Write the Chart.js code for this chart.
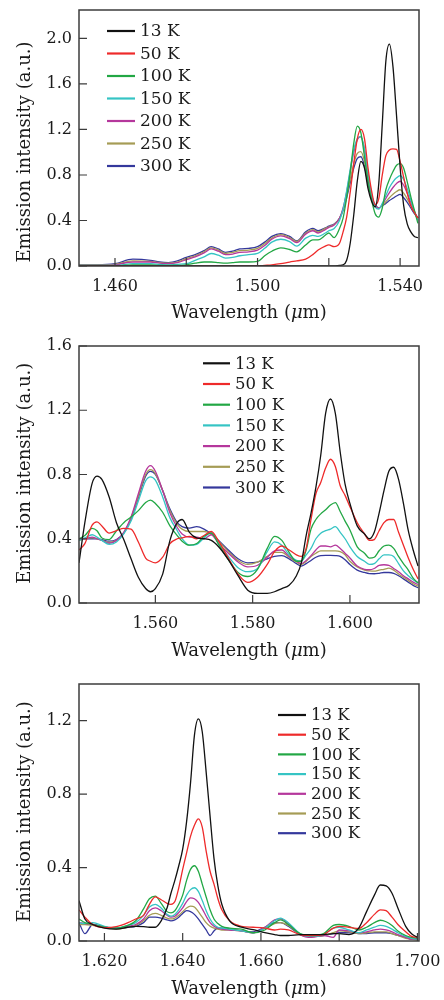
<!DOCTYPE html>
<html>
<head>
<meta charset="utf-8">
<script src="https://cdn.jsdelivr.net/npm/chart.js@4.4.0/dist/chart.umd.min.js"></script>
<style>
  html, body { margin: 0; padding: 0; background: #fff; }
  #wrap { position: relative; width: 444px; height: 1000px; }
  canvas { position: absolute; left: 0; }
</style>
</head>
<body>
<div id="wrap">
  <canvas id="c1" width="444" height="330" style="top:0px"></canvas>
  <canvas id="c2" width="444" height="340" style="top:330px"></canvas>
  <canvas id="c3" width="444" height="330" style="top:670px"></canvas>
</div>
<script>
// temperatures, shared by the three panels
const temps = ['13 K', '50 K', '100 K', '150 K', '200 K', '250 K', '300 K'];
const colors = ['#111111', '#ee2a2a', '#22a744', '#35c4c4', '#b5379c', '#a59c55', '#34389c'];

// panel 1 : 1.45 - 1.545 um
const p1Wave = [1.450,1.455,1.460,1.465,1.470,1.4725,1.475,1.4775,1.480,1.4825,
  1.485,1.487,1.489,1.491,1.493,1.495,1.4975,1.500,1.502,1.504,
  1.5065,1.509,1.511,1.5135,1.5155,1.517,1.519,1.520,1.5215,1.523,
  1.524,1.525,1.526,1.527,1.528,1.529,1.530,1.531,1.532,1.533,
  1.534,1.535,1.536,1.537,1.538,1.539,1.540,1.541,1.542,1.543,
  1.544,1.545];
const p1K13 = [0,0,0,0,0,0,0,0,0,0, 0,0,0,0,0,0,0,0,0,0, 0,0,0,0,0,0,0,0,0,0.005,
  0.01,0.05,0.20,0.45,0.75,0.92,0.86,0.68,0.57,0.52, 0.72,1.25,1.80,1.95,1.75,1.32,0.87,0.53,0.37,0.30, 0.26,0.25];
const p1K50 = [0,0,0,0,0,0,0,0,0,0, 0,0,0,0,0,0,0,0,0.005,0.01, 0.02,0.035,0.045,0.06,0.10,0.14,0.175,0.185,0.17,0.20,
  0.30,0.43,0.65,0.90,1.12,1.20,1.12,0.86,0.66,0.54, 0.59,0.80,0.97,1.02,1.03,1.025,0.92,0.78,0.64,0.53, 0.47,0.42];
const p1K100 = [0,0,0,0.01,0.01,0.005,0.005,0.005,0.01,0.025, 0.035,0.035,0.03,0.025,0.03,0.035,0.035,0.04,0.09,0.13,
  0.16,0.145,0.125,0.185,0.23,0.23,0.27,0.29,0.25,0.33, 0.42,0.60,0.82,1.08,1.23,1.17,0.96,0.74,0.58,0.46,
  0.43,0.51,0.67,0.76,0.83,0.885,0.90,0.86,0.74,0.61, 0.49,0.375];
const p1K150 = [0.005,0.005,0.005,0.02,0.02,0.015,0.01,0.015,0.02,0.05, 0.08,0.11,0.095,0.07,0.075,0.09,0.10,0.11,0.155,0.21,
  0.235,0.215,0.175,0.245,0.27,0.26,0.29,0.31,0.33,0.40, 0.50,0.66,0.85,1.02,1.12,1.14,1.03,0.81,0.63,0.52,
  0.50,0.55,0.62,0.69,0.74,0.775,0.795,0.76,0.68,0.58, 0.48,0.40];
const p1K200 = [0.005,0.005,0.01,0.035,0.035,0.025,0.02,0.03,0.055,0.08, 0.115,0.15,0.13,0.10,0.105,0.12,0.125,0.14,0.18,0.235,
  0.265,0.24,0.205,0.28,0.31,0.29,0.32,0.34,0.36,0.42, 0.51,0.65,0.83,1.00,1.11,1.135,1.02,0.80,0.63,0.53,
  0.51,0.54,0.595,0.645,0.69,0.725,0.745,0.71,0.64,0.56, 0.48,0.42];
const p1K250 = [0.01,0.01,0.015,0.045,0.04,0.03,0.025,0.035,0.065,0.09, 0.125,0.16,0.14,0.11,0.12,0.135,0.14,0.155,0.195,0.245,
  0.275,0.25,0.215,0.29,0.32,0.30,0.33,0.345,0.365,0.42, 0.50,0.62,0.76,0.90,0.99,1.005,0.92,0.75,0.61,0.53,
  0.51,0.53,0.565,0.60,0.63,0.655,0.67,0.64,0.59,0.53, 0.47,0.42];
const p1K300 = [0.01,0.01,0.02,0.06,0.05,0.035,0.03,0.045,0.075,0.10, 0.135,0.17,0.15,0.12,0.13,0.15,0.155,0.17,0.21,0.26,
  0.285,0.26,0.22,0.30,0.33,0.31,0.335,0.35,0.37,0.42, 0.49,0.60,0.73,0.86,0.945,0.96,0.88,0.72,0.60,0.54,
  0.51,0.53,0.55,0.575,0.595,0.615,0.63,0.60,0.56,0.51, 0.46,0.42];

// panel 2 : 1.544 - 1.614 um
const p2Wave = [1.5443,1.5455,1.547,1.548,1.549,1.5505,1.552,1.5535,1.555,1.5565,
  1.558,1.559,1.560,1.5615,1.563,1.5645,1.5655,1.567,1.5685,1.570,
  1.5715,1.573,1.575,1.577,1.579,1.581,1.583,1.5845,1.586,1.5875,
  1.589,1.590,1.591,1.592,1.593,1.594,1.595,1.596,1.597,1.598,
  1.599,1.600,1.6015,1.603,1.604,1.605,1.606,1.607,1.608,1.609,
  1.610,1.611,1.612,1.613,1.614];
const p2K13 = [0.25,0.50,0.745,0.79,0.77,0.66,0.50,0.395,0.275,0.16, 0.09,0.07,0.09,0.18,0.39,0.50,0.52,0.44,0.405,0.40,
  0.39,0.35,0.27,0.17,0.08,0.06,0.06,0.07,0.09,0.11, 0.17,0.25,0.42,0.56,0.72,0.92,1.18,1.27,1.18,0.94,
  0.74,0.62,0.48,0.43,0.40,0.44,0.56,0.70,0.82,0.845, 0.77,0.62,0.45,0.33,0.23];
const p2K50 = [0.33,0.37,0.485,0.505,0.48,0.435,0.45,0.465,0.46,0.38, 0.28,0.26,0.25,0.285,0.37,0.40,0.405,0.415,0.40,0.42,
  0.445,0.385,0.28,0.18,0.128,0.16,0.24,0.32,0.355,0.33, 0.30,0.29,0.34,0.52,0.68,0.75,0.84,0.895,0.85,0.73,
  0.67,0.60,0.50,0.43,0.39,0.395,0.45,0.50,0.52,0.52, 0.44,0.36,0.28,0.21,0.15];
const p2K100 = [0.40,0.42,0.465,0.45,0.405,0.395,0.45,0.50,0.535,0.575, 0.625,0.64,0.62,0.565,0.48,0.42,0.385,0.36,0.37,0.415,
  0.435,0.365,0.27,0.19,0.165,0.21,0.34,0.415,0.39,0.315, 0.26,0.26,0.33,0.46,0.52,0.555,0.58,0.61,0.625,0.57,
  0.51,0.455,0.35,0.31,0.28,0.285,0.325,0.355,0.36,0.34, 0.29,0.245,0.205,0.155,0.125];
const p2K150 = [0.39,0.405,0.425,0.41,0.39,0.365,0.38,0.43,0.51,0.635, 0.76,0.785,0.765,0.66,0.53,0.45,0.40,0.36,0.365,0.405,
  0.44,0.37,0.29,0.22,0.195,0.215,0.32,0.38,0.36,0.30, 0.265,0.26,0.30,0.34,0.40,0.435,0.45,0.46,0.475,0.44,
  0.40,0.35,0.29,0.26,0.24,0.245,0.275,0.30,0.30,0.29, 0.245,0.20,0.17,0.145,0.125];
const p2K200 = [0.40,0.40,0.41,0.40,0.39,0.372,0.39,0.44,0.535,0.68, 0.82,0.855,0.82,0.70,0.56,0.47,0.43,0.41,0.41,0.40,
  0.425,0.37,0.31,0.255,0.225,0.235,0.285,0.325,0.33,0.29, 0.26,0.245,0.265,0.295,0.33,0.355,0.355,0.35,0.36,0.34,
  0.31,0.28,0.23,0.21,0.207,0.215,0.235,0.238,0.235,0.215, 0.195,0.17,0.15,0.13,0.115];
const p2K250 = [0.39,0.40,0.405,0.40,0.39,0.378,0.39,0.435,0.53,0.665, 0.80,0.83,0.805,0.70,0.575,0.49,0.46,0.445,0.445,0.445,
  0.43,0.385,0.32,0.265,0.24,0.255,0.29,0.315,0.315,0.285, 0.255,0.24,0.26,0.29,0.31,0.325,0.325,0.325,0.325,0.32,
  0.30,0.26,0.225,0.205,0.20,0.198,0.205,0.21,0.217,0.205, 0.18,0.16,0.14,0.12,0.105];
const p2K300 = [0.40,0.40,0.40,0.40,0.395,0.385,0.395,0.435,0.525,0.655, 0.79,0.82,0.80,0.70,0.585,0.50,0.475,0.466,0.475,0.46,
  0.43,0.39,0.33,0.275,0.25,0.255,0.275,0.29,0.295,0.275, 0.245,0.23,0.245,0.265,0.285,0.295,0.296,0.296,0.295,0.29,
  0.27,0.24,0.205,0.19,0.183,0.182,0.185,0.19,0.19,0.185, 0.17,0.15,0.13,0.11,0.095];

// panel 3 : 1.6135 - 1.700 um
const p3Wave = [1.6135,1.615,1.617,1.620,1.623,1.626,1.628,1.630,1.6315,1.633,
  1.6345,1.636,1.637,1.638,1.639,1.640,1.641,1.642,1.643,1.644,
  1.645,1.646,1.647,1.648,1.649,1.650,1.652,1.655,1.658,1.661,
  1.6635,1.665,1.667,1.670,1.673,1.676,1.6785,1.680,1.6825,1.685,
  1.687,1.689,1.6905,1.692,1.6935,1.695,1.697,1.6985,1.700];
const p3K13 = [0.22,0.12,0.09,0.07,0.065,0.075,0.08,0.078,0.075,0.075, 0.11,0.18,0.26,0.33,0.41,0.50,0.65,0.86,1.12,1.21,
  1.14,0.92,0.68,0.45,0.30,0.20,0.11,0.075,0.062,0.045, 0.035,0.03,0.03,0.035,0.035,0.035,0.04,0.04,0.035,0.07,
  0.16,0.25,0.305,0.30,0.26,0.18,0.08,0.04,0.02];
const p3K50 = [0.17,0.13,0.09,0.073,0.078,0.10,0.12,0.14,0.20,0.24, 0.225,0.205,0.20,0.215,0.29,0.39,0.48,0.57,0.63,0.665,
  0.62,0.49,0.38,0.31,0.23,0.17,0.11,0.08,0.075,0.07, 0.06,0.065,0.06,0.035,0.03,0.035,0.07,0.08,0.075,0.068,
  0.10,0.145,0.17,0.165,0.13,0.09,0.05,0.025,0.02];
const p3K100 = [0.12,0.10,0.09,0.075,0.07,0.085,0.11,0.175,0.23,0.245, 0.205,0.16,0.153,0.165,0.20,0.25,0.33,0.39,0.41,0.38,
  0.31,0.24,0.17,0.12,0.095,0.08,0.07,0.065,0.045,0.06, 0.10,0.115,0.09,0.04,0.03,0.04,0.085,0.09,0.08,0.06,
  0.075,0.10,0.113,0.105,0.085,0.055,0.03,0.02,0.015];
const p3K150 = [0.10,0.095,0.10,0.08,0.07,0.085,0.10,0.14,0.185,0.20, 0.18,0.145,0.135,0.145,0.17,0.205,0.25,0.28,0.29,0.27,
  0.22,0.165,0.12,0.09,0.075,0.07,0.065,0.055,0.045,0.07, 0.11,0.125,0.10,0.04,0.025,0.035,0.07,0.075,0.06,0.045,
  0.06,0.075,0.085,0.08,0.065,0.045,0.025,0.015,0.01];
const p3K200 = [0.10,0.095,0.09,0.075,0.07,0.08,0.09,0.12,0.165,0.18, 0.165,0.14,0.13,0.135,0.155,0.18,0.215,0.235,0.23,0.21,
  0.175,0.135,0.10,0.08,0.07,0.065,0.06,0.055,0.045,0.075, 0.115,0.12,0.095,0.035,0.02,0.03,0.02,0.06,0.055,0.045,
  0.05,0.06,0.065,0.06,0.05,0.035,0.02,0.01,0.01];
const p3K250 = [0.09,0.09,0.085,0.075,0.065,0.075,0.085,0.11,0.14,0.15, 0.14,0.125,0.12,0.125,0.14,0.16,0.18,0.19,0.185,0.16,
  0.13,0.10,0.08,0.07,0.065,0.06,0.06,0.055,0.045,0.07, 0.095,0.10,0.085,0.035,0.025,0.03,0.045,0.055,0.05,0.04,
  0.045,0.05,0.05,0.05,0.04,0.03,0.015,0.01,0.005];
const p3K300 = [0.10,0.04,0.09,0.075,0.07,0.075,0.08,0.10,0.13,0.13, 0.125,0.115,0.11,0.115,0.13,0.15,0.165,0.16,0.145,0.12,
  0.09,0.06,0.03,0.055,0.07,0.07,0.065,0.055,0.05,0.075, 0.10,0.10,0.08,0.035,0.025,0.03,0.04,0.045,0.045,0.04,
  0.04,0.045,0.045,0.045,0.04,0.03,0.02,0.01,0.01];

const FONT = 'DejaVu Serif';

// box round the plot + inward tick marks
const framePlugin = {
  id: 'frame',
  afterDatasetsDraw(chart) {
    const { ctx, chartArea: a, scales } = chart;
    ctx.save();
    ctx.strokeStyle = '#3c3c3c';
    ctx.lineWidth = 1.5;
    ctx.strokeRect(a.left, a.top, a.right - a.left, a.bottom - a.top);
    ctx.lineWidth = 1.2;
    ctx.beginPath();
    scales.x.ticks.forEach(t => {
      const px = scales.x.getPixelForValue(t.value);
      ctx.moveTo(px, a.bottom); ctx.lineTo(px, a.bottom - 8);
    });
    scales.y.ticks.forEach(t => {
      const py = scales.y.getPixelForValue(t.value);
      ctx.moveTo(a.left, py); ctx.lineTo(a.left + 8, py);
    });
    ctx.stroke();
    ctx.restore();
  }
};

// legend drawn inside the plot
const innerLegend = {
  id: 'innerLegend',
  afterDraw(chart, args, o) {
    const ctx = chart.ctx;
    ctx.save();
    ctx.font = o.size + 'px "' + FONT + '"';
    ctx.textBaseline = 'middle';
    ctx.textAlign = 'left';
    chart.data.datasets.forEach((ds, i) => {
      const y = o.y0 + i * o.dy;
      ctx.strokeStyle = ds.borderColor;
      ctx.lineWidth = 2.2;
      ctx.beginPath();
      ctx.moveTo(o.x1, y); ctx.lineTo(o.x2, y);
      ctx.stroke();
      ctx.fillStyle = '#1a1a1a';
      ctx.fillText(ds.label, o.tx, y + 1);
    });
    ctx.restore();
  }
};

// axis titles (italic mu in the x title)
const axisTitles = {
  id: 'axisTitles',
  afterDraw(chart, args, o) {
    const ctx = chart.ctx, a = chart.chartArea;
    ctx.save();
    ctx.fillStyle = '#1a1a1a';
    ctx.textBaseline = 'middle';
    ctx.textAlign = 'left';
    const parts = [['Wavelength (', ''], ['\u03bc', 'italic '], ['m)', '']];
    let w = 0;
    parts.forEach(p => { ctx.font = p[1] + '18px "' + FONT + '"'; w += ctx.measureText(p[0]).width; });
    let x = (a.left + a.right) / 2 - w / 2;
    parts.forEach(p => {
      ctx.font = p[1] + '18px "' + FONT + '"';
      ctx.fillText(p[0], x, o.xTitleY);
      x += ctx.measureText(p[0]).width;
    });
    ctx.translate(o.yTitleX, o.yTitleY);
    ctx.rotate(-Math.PI / 2);
    ctx.textAlign = 'center';
    ctx.font = '18px "' + FONT + '"';
    ctx.fillText('Emission intensity (a.u.)', 0, 0);
    ctx.restore();
  }
};

function makeChart(id, wave, series, cfg) {
  const datasets = series.map((vals, i) => ({
    label: temps[i],
    data: wave.map((x, j) => ({ x: x, y: vals[j] })),
    borderColor: colors[i],
    borderWidth: 1.3,
    pointRadius: 0,
    fill: false,
    cubicInterpolationMode: 'monotone'
  }));
  return new Chart(document.getElementById(id), {
    type: 'line',
    data: { datasets: datasets },
    plugins: [framePlugin, innerLegend, axisTitles],
    options: {
      responsive: false,
      animation: false,
      devicePixelRatio: 1,
      layout: { padding: { left: 0, right: 25, top: cfg.padTop, bottom: 0 } },
      plugins: {
        legend: { display: false },
        tooltip: { enabled: false },
        innerLegend: cfg.legend,
        axisTitles: cfg.titles
      },
      scales: {
        x: {
          type: 'linear',
          min: cfg.xMin, max: cfg.xMax,
          grid: { display: false, drawTicks: false },
          border: { display: false },
          afterFit: s => { s.height = cfg.xHeight; s.paddingLeft = 0; s.paddingRight = 0; },
          ticks: {
            stepSize: 0.02,
            includeBounds: false,
            padding: 11,
            maxRotation: 0,
            autoSkip: false,
            color: '#1a1a1a',
            font: { family: FONT, size: 16 },
            callback: cfg.xLabel
          }
        },
        y: {
          min: 0, max: cfg.yMax,
          grid: { display: false, drawTicks: false },
          border: { display: false },
          afterFit: s => { s.width = 79; s.paddingTop = 0; s.paddingBottom = 0; },
          ticks: {
            stepSize: 0.4,
            includeBounds: false,
            padding: 7,
            color: '#1a1a1a',
            font: { family: FONT, size: 16 },
            callback: v => v.toFixed(1)
          }
        }
      }
    }
  });
}

makeChart('c1', p1Wave, [p1K13, p1K50, p1K100, p1K150, p1K200, p1K250, p1K300], {
  xMin: 1.4499, xMax: 1.5453, yMax: 2.25, padTop: 10, xHeight: 64,
  xLabel: v => (Math.round(v * 1000) % 40 === 20 ? v.toFixed(3) : ''),
  legend: { x1: 107, x2: 135, tx: 140, y0: 31, dy: 22.5, size: 17 },
  titles: { xTitleY: 313, yTitleX: 25, yTitleY: 152 }
});

makeChart('c2', p2Wave, [p2K13, p2K50, p2K100, p2K150, p2K200, p2K250, p2K300], {
  xMin: 1.5443, xMax: 1.6142, yMax: 1.6, padTop: 16, xHeight: 67,
  xLabel: v => v.toFixed(3),
  legend: { x1: 203, x2: 230, tx: 235, y0: 33.3, dy: 20.7, size: 16.5 },
  titles: { xTitleY: 321.7, yTitleX: 25, yTitleY: 143.3 }
});

makeChart('c3', p3Wave, [p3K13, p3K50, p3K100, p3K150, p3K200, p3K250, p3K300], {
  xMin: 1.6135, xMax: 1.7004, yMax: 1.4, padTop: 14, xHeight: 59,
  xLabel: v => v.toFixed(3),
  legend: { x1: 278, x2: 306, tx: 311, y0: 45, dy: 19.7, size: 16.5 },
  titles: { xTitleY: 319.3, yTitleX: 25, yTitleY: 141.7 }
});
</script>
</body>
</html>
